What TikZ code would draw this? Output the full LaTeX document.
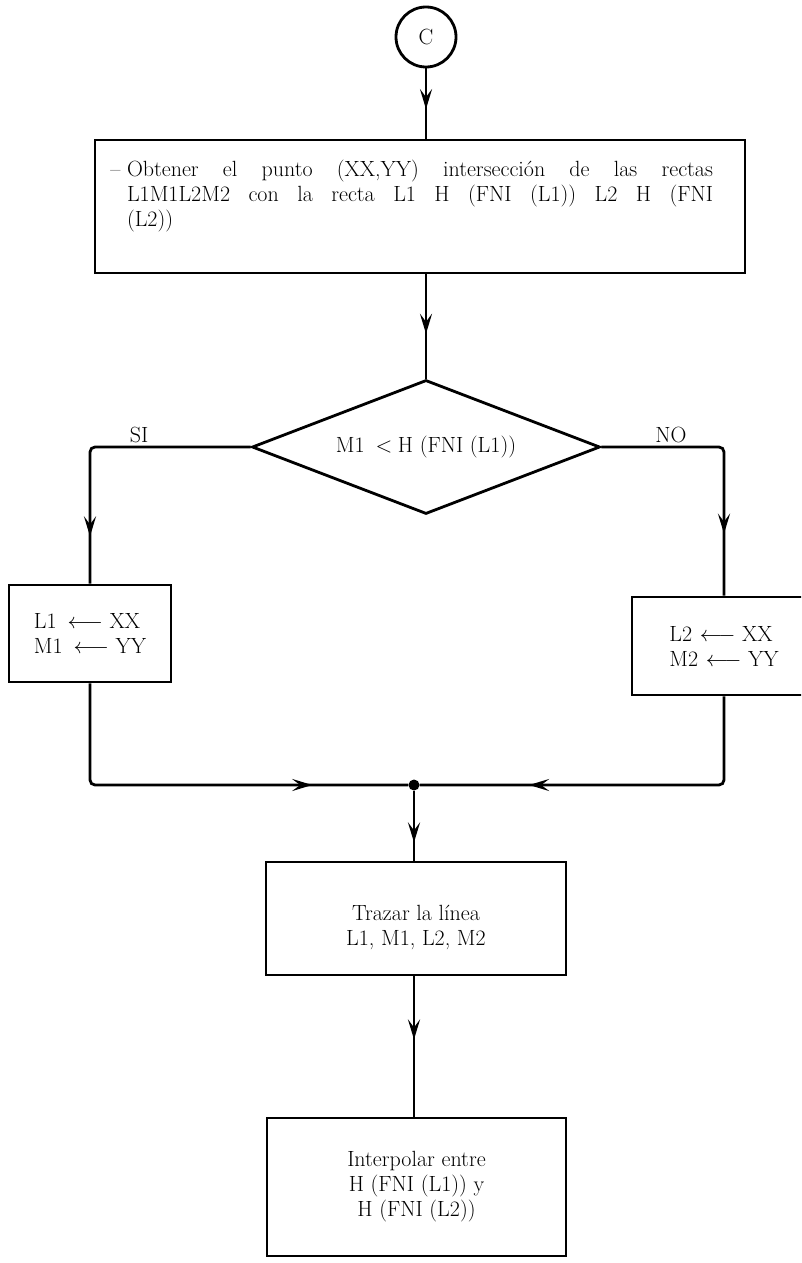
\RequirePackage{fix-cm}
\documentclass[tikz,border=0pt]{standalone}
\usetikzlibrary{arrows.meta,decorations.markings,shapes.geometric}
\newcommand\myfont{\fontsize{22}{25}\selectfont}
\begin{document}
\begin{tikzpicture}[x=1pt,y=-1pt,
  ln/.style={line width=2.8pt, rounded corners=5pt},
  boxst/.style={draw, line width=2.8pt, inner sep=0pt, font=\myfont},
  marr/.style={postaction={decorate}, decoration={markings, mark=at position #1 with {\arrow{Stealth[length=20pt,width=12pt,inset=8pt]}}}},
  lbl/.style={font=\myfont, inner sep=0pt}
]
\useasboundingbox (0,0) rectangle (801,1263);
\clip (0,0) rectangle (801,1263);

% nodes
\node[boxst, circle, minimum size=60pt] (c) at (426,37) {C};
\node[boxst, minimum width=650pt, minimum height=133pt] (b1) at (420,206.5) {};
\node[lbl, text width=586pt, align=justify] (t1) at (420,196)
  {\noindent\llap{--\hspace{0.3em}}Obtener el punto (XX,YY) intersección de las rectas\linebreak
   L1M1L2M2 con la recta L1 H (FNI (L1)) L2 H (FNI\linebreak (L2))};
\node[boxst, diamond, aspect=2.6, minimum width=348pt, minimum height=134pt] (d) at (426,447)
  {M1\hspace{0.5em}$<$\hspace{0.25em}H (FNI (L1))};
\node[lbl, anchor=south] (si) at (139,443) {SI};
\node[lbl, anchor=south] (no) at (671,443) {NO};
\node[boxst, minimum width=162pt, minimum height=97pt, align=left] (lb) at (90,633.5)
  {L1\hspace{0.5em}$\longleftarrow$\hspace{0.3em}XX\\M1\hspace{0.5em}$\longleftarrow$\hspace{0.3em}YY};
\node[boxst, minimum width=184pt, minimum height=98pt, align=left] (rb) at (724,646)
  {L2\hspace{0.35em}$\longleftarrow$\hspace{0.3em}XX\\M2\hspace{0.35em}$\longleftarrow$\hspace{0.3em}YY};
\node[circle, fill, inner sep=0pt, minimum size=11pt] (m) at (414,785) {};
\node[boxst, minimum width=300pt, minimum height=113pt] (b3) at (416,918.5) {};
\node[lbl, align=center] (t3) at (416,927) {Trazar la línea\\L1, M1, L2, M2};
\node[boxst, minimum width=299pt, minimum height=138pt, align=center] (b4) at (416.5,1187)
  {Interpolar entre\\H (FNI (L1)) y\\H (FNI (L2))};

% connectors
\draw[ln, marr=0.58] (c.south) -- (c.south |- b1.north);
\draw[ln, marr=0.57] (c.south |- b1.south) -- (d.north);
\draw[ln, marr=0.84] (d.west) -| (lb.north);
\draw[ln, marr=0.77] (d.east) -| (rb.north);
\draw[ln, marr=0.77] (lb.south) |- (m);
\draw[ln, marr=0.72] (rb.south) |- (m);
\draw[ln, marr=0.74] (m) -- (m |- b3.north);
\draw[ln, marr=0.45] (m |- b3.south) -- (m |- b4.north);
\end{tikzpicture}
\end{document}
